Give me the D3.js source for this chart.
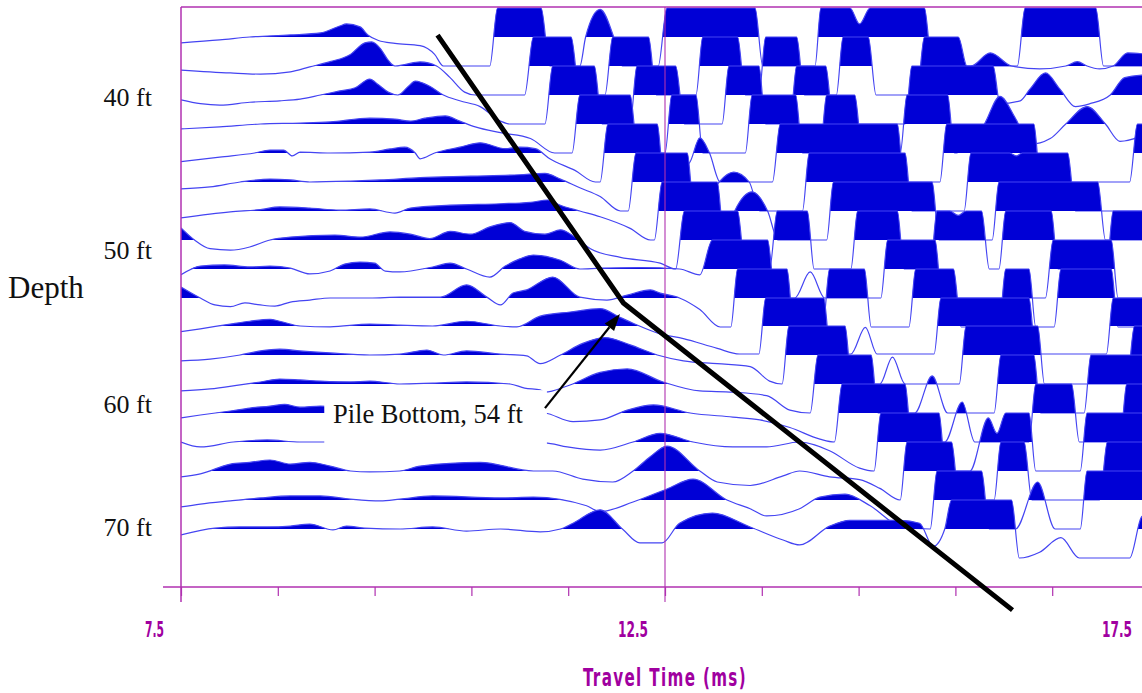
<!DOCTYPE html>
<html>
<head>
<meta charset="utf-8">
<script src="https://cdn.jsdelivr.net/npm/d3@7/dist/d3.min.js"></script>
<style>
  body { margin: 0; background: #fff; }
  svg { display: block; }
</style>
</head>
<body>
<svg id="chart" width="1142" height="693"></svg>
<script>
// receiver depths (ft), one wiggle trace each
const traceDepths = [36, 38, 40, 42, 44, 46, 48, 50, 52, 54, 56, 58, 60, 62, 64, 66, 68, 70];

// [travel time ms, amplitude in trace spacings], clipped at +/-1
const trace36 = [[7.50,-0.2],[7.90,-0.1],[8.21,0],[8.63,0.07],[8.94,0.14],[9.14,0.38],[9.21,0.45],[9.35,0.35],[9.43,0.07],[9.54,-0.12],[9.71,-0.22],[9.97,-0.3],[10.12,-0.6],[10.21,-1],[10.69,-1],[10.77,1],[11.22,1],[11.31,-1],[11.62,-1],[11.68,0],[11.83,0.95],[11.97,0],[12.06,-1],[12.43,-1],[12.52,1],[13.43,1],[13.51,-1],[14.05,-1],[14.11,1],[14.41,1],[14.51,0.45],[14.62,1],[15.18,1],[15.26,-1],[16.14,-1],[16.22,1],[16.95,1],[17.03,-1],[17.5,-1]];
const trace38 = [[7.50,-0.14],[8.01,-0.24],[8.32,-0.28],[8.63,-0.2],[8.83,-0.03],[9.04,0.15],[9.25,0.4],[9.40,0.8],[9.47,0.83],[9.56,0.6],[9.64,0.2],[9.71,0],[9.81,0.05],[9.97,0.14],[10.14,0],[10.28,-0.4],[10.43,-0.9],[10.54,-1],[11.05,-1],[11.14,1],[11.53,1],[11.62,-1],[11.88,-1],[11.96,1],[12.33,1],[12.41,-1],[12.82,-1],[12.89,1],[13.25,1],[13.33,-1],[13.47,-1],[13.54,1],[13.86,1],[13.94,-1],[14.27,-1],[14.34,1],[14.60,1],[14.68,-1],[15.10,-1],[15.18,1],[15.53,1],[15.62,0],[15.66,0],[15.86,0.45],[16.08,0],[16.37,-0.1],[16.64,0],[16.76,0.15],[16.86,0],[16.99,-0.1],[17.13,0],[17.28,0.45],[17.5,0.4]];
const trace40 = [[7.50,-0.17],[7.70,-0.3],[7.90,-0.35],[8.21,-0.25],[8.52,-0.2],[8.73,-0.14],[8.94,0],[9.14,0.14],[9.30,0.25],[9.45,0.55],[9.54,0.35],[9.64,0.1],[9.74,0],[9.85,0.3],[9.92,0.48],[10.07,0.3],[10.21,0],[10.38,-0.2],[10.59,-0.4],[10.80,-0.9],[10.90,-1],[11.26,-1],[11.34,1],[11.77,1],[11.85,-1],[12.14,-1],[12.21,1],[12.61,1],[12.70,-1],[13.09,-1],[13.16,1],[13.47,1],[13.54,-1],[13.79,-1],[13.86,1],[14.16,1],[14.24,-1],[14.98,-1],[15.05,1],[15.89,1],[15.96,-0.3],[16.17,-0.2],[16.27,0.2],[16.43,0.76],[16.58,0.2],[16.74,-0.4],[16.89,-0.3],[17.10,0],[17.25,0.6],[17.5,0.7]];
const trace42 = [[7.50,-0.17],[7.90,-0.1],[8.32,0],[8.73,0.03],[9.04,0.07],[9.45,0.2],[9.71,0.17],[9.87,0.1],[10.02,0.2],[10.23,0.28],[10.38,0.1],[10.54,-0.1],[10.80,-0.3],[11.11,-0.5],[11.36,-1],[11.54,-1],[11.62,1],[12.14,1],[12.22,-1],[12.50,-1],[12.57,1],[12.82,1],[12.89,-1],[13.33,-1],[13.40,1],[13.85,1],[13.92,-1],[14.10,-1],[14.17,1],[14.46,1],[14.54,-1],[14.93,-1],[15.00,1],[15.42,1],[15.49,-1],[15.70,-0.5],[15.80,0],[15.96,0.95],[16.12,0.2],[16.27,-0.7],[16.48,-0.5],[16.64,0],[16.86,0.6],[17.05,0],[17.20,-0.6],[17.5,-0.3]];
const trace44 = [[7.50,-0.3],[7.90,-0.14],[8.26,0],[8.42,0.1],[8.56,0.1],[8.65,-0.1],[8.73,0.03],[9.04,0],[9.45,0.03],[9.66,0.14],[9.81,0.2],[9.92,0],[9.97,-0.2],[10.12,0],[10.38,0.2],[10.59,0.35],[10.85,0.15],[11.00,0.2],[11.16,0.15],[11.31,-0.2],[11.57,-0.6],[11.78,-1],[11.83,-1],[11.91,1],[12.42,1],[12.49,-1],[12.76,-0.3],[12.86,0.52],[12.96,0],[13.07,-1],[13.61,-1],[13.69,1],[14.90,1],[14.97,-1],[15.34,-1],[15.41,1],[16.31,1],[16.38,-1],[17.30,-1],[17.38,1],[17.5,1]];
const trace46 = [[7.50,-0.24],[7.80,-0.17],[8.11,0],[8.42,0.1],[8.63,0.07],[8.83,0],[9.25,0.03],[9.56,0.07],[9.97,0.15],[10.49,0.2],[11.00,0.25],[11.26,0.3],[11.42,0.1],[11.62,-0.2],[11.83,-0.5],[12.04,-1],[12.12,-1],[12.20,1],[12.73,1],[12.80,-1],[12.96,-0.5],[13.06,0],[13.21,0.34],[13.37,0],[13.48,-1],[13.92,-1],[13.99,1],[14.98,1],[15.05,-1],[15.59,-1],[15.66,1],[16.06,1],[16.13,0.9],[16.19,1],[16.66,1],[16.74,-1],[17.5,-1]];
const trace48 = [[7.50,-0.24],[8.01,-0.03],[8.32,0.05],[8.52,0.14],[8.83,0.1],[9.14,0.03],[9.45,0.07],[9.71,-0.07],[9.87,0.1],[10.28,0.2],[10.80,0.25],[11.11,0.3],[11.29,0.38],[11.42,0.2],[11.62,0],[11.83,-0.2],[12.14,-0.6],[12.35,-1],[12.39,-1],[12.47,1],[13.04,1],[13.11,-1],[13.22,0],[13.40,0.66],[13.56,0],[13.67,-1],[14.17,-1],[14.24,1],[15.26,1],[15.33,-1],[15.88,-1],[15.95,1],[16.97,1],[17.05,-1],[17.5,-1]];
const trace50 = [[7.50,0.42],[7.64,0],[7.80,-0.3],[8.01,-0.35],[8.21,-0.24],[8.42,0],[8.63,0.1],[9.09,0.17],[9.35,0.1],[9.66,0.28],[9.87,0.2],[10.07,0.05],[10.28,0.3],[10.49,0.2],[10.69,0.45],[10.90,0.6],[11.05,0.3],[11.26,0.2],[11.42,0.35],[11.57,0.1],[11.73,-0.3],[12.04,-0.6],[12.45,-0.8],[12.61,-1],[12.70,1],[13.25,1],[13.33,-1],[13.58,-1],[13.66,1],[13.97,1],[14.04,-1],[14.42,-1],[14.49,1],[14.90,1],[14.97,-1],[15.24,-1],[15.31,1],[15.44,1],[15.53,0.85],[15.61,1],[15.77,1],[15.85,-1],[15.95,-1],[16.02,1],[16.49,1],[16.56,-1],[17.06,-1],[17.13,1],[17.5,1]];
const trace52 = [[7.50,-0.2],[7.70,0.1],[7.95,0.14],[8.21,0.07],[8.42,0.1],[8.63,0.03],[8.83,-0.17],[9.04,-0.07],[9.19,0.17],[9.35,0.24],[9.50,0.2],[9.61,-0.07],[9.76,-0.1],[10.10,0.07],[10.28,0.2],[10.45,0],[10.69,-0.28],[10.85,0.1],[11.00,0.35],[11.14,0.48],[11.42,0.3],[11.62,0],[11.83,0.03],[12.24,0.05],[12.65,0],[12.86,-0.2],[12.99,1],[13.56,1],[13.64,-1],[13.84,-1],[14.00,-0.1],[14.15,-1],[14.73,-1],[14.80,1],[15.29,1],[15.36,-1],[16.43,-1],[16.51,1],[17.11,1],[17.18,-1],[17.5,-1]];
const trace54 = [[7.50,0.38],[7.70,0],[7.85,-0.24],[8.01,-0.3],[8.16,-0.17],[8.32,-0.24],[8.47,-0.28],[8.63,-0.14],[8.83,-0.07],[9.04,0],[9.45,0],[9.76,0.03],[10.18,0.03],[10.45,0.45],[10.66,0.03],[10.80,-0.24],[10.93,0.17],[11.07,0.28],[11.34,0.72],[11.62,0.03],[11.90,-0.07],[12.11,0.1],[12.35,0.28],[12.45,0.17],[12.65,0],[12.86,-0.4],[13.07,-1],[13.18,-1],[13.25,1],[13.76,1],[13.83,-1],[14.13,-1],[14.20,1],[14.56,1],[14.63,-1],[15.02,-1],[15.09,1],[15.48,1],[15.56,-1],[15.95,-1],[16.02,1],[16.26,1],[16.33,-1],[16.52,-1],[16.59,1],[17.11,1],[17.18,-1],[17.5,-1]];
const trace56 = [[7.50,-0.2],[7.70,-0.1],[8.01,0.07],[8.21,0.17],[8.42,0.24],[8.52,0.17],[8.73,0],[9.04,-0.03],[9.45,0.07],[9.76,0.03],[10.10,0],[10.45,0.17],[10.80,0],[10.97,-0.03],[11.21,0.35],[11.52,0.5],[11.83,0.62],[12.04,0.3],[12.17,0.1],[12.45,-0.28],[12.69,-0.45],[13.04,-0.8],[13.27,-1],[13.47,-1],[13.54,1],[14.14,1],[14.21,-1],[14.42,-1],[14.57,-0.05],[14.69,-1],[15.28,-1],[15.35,1],[16.26,1],[16.33,-1],[17.06,-1],[17.13,1],[17.5,1]];
const trace58 = [[7.50,-0.2],[7.80,-0.14],[8.11,0],[8.32,0.14],[8.52,0.2],[8.73,0.14],[9.04,0.07],[9.45,0],[9.76,0.03],[10.04,0.17],[10.21,0],[10.45,0.14],[10.80,0.03],[11.07,-0.03],[11.21,-0.3],[11.42,0],[11.65,0.4],[11.88,0.6],[12.14,0.35],[12.42,0],[12.69,-0.2],[13.04,-0.3],[13.38,-0.4],[13.58,-0.9],[13.71,-1],[13.78,1],[14.36,1],[14.43,-1],[14.72,-1],[14.85,-0.07],[14.98,-1],[15.54,-1],[15.61,1],[16.35,1],[16.42,-1],[17.27,-1],[17.35,1],[17.5,1]];
const trace60 = [[7.50,-0.24],[7.80,-0.17],[8.11,-0.03],[8.32,0.07],[8.52,0.17],[8.73,0.14],[8.94,0.1],[9.25,0.07],[9.45,0.1],[9.66,0.03],[9.76,0],[10.10,0.03],[10.45,0.07],[10.90,0],[11.05,-0.14],[11.21,-0.2],[11.26,-0.28],[11.49,-0.07],[11.83,0.4],[12.11,0.52],[12.48,0.07],[12.86,-0.24],[13.20,-0.28],[13.55,-0.4],[13.79,-0.9],[14.00,-1],[14.08,1],[14.63,1],[14.70,-1],[15.08,-1],[15.26,0.28],[15.42,-1],[15.90,-1],[15.97,1],[16.31,1],[16.38,-1],[16.83,-1],[16.90,1],[17.5,1]];
const trace62 = [[7.50,-0.17],[7.70,-0.07],[8.01,0.07],[8.21,0.17],[8.42,0.24],[8.57,0.3],[8.73,0.2],[8.94,0.24],[9.14,0.17],[9.35,0.07],[9.56,0],[9.97,0],[10.38,0.03],[10.80,0.1],[11.11,0.03],[11.26,0],[11.55,-0.3],[11.83,-0.24],[12.11,0.1],[12.38,0.28],[12.76,0],[13.20,-0.14],[13.48,-0.24],[13.79,-0.5],[14.10,-0.9],[14.25,-1],[14.33,1],[14.98,1],[15.05,-1],[15.39,-1],[15.57,0.38],[15.70,-1],[16.26,-1],[16.33,1],[16.70,1],[16.78,-1],[17.20,-1],[17.27,1],[17.5,1]];
const trace64 = [[7.50,0],[7.70,-0.17],[8.04,0],[8.39,0.07],[8.73,0],[9.07,0],[9.76,0.03],[10.80,0],[11.26,-0.03],[11.49,-0.17],[11.83,-0.28],[12.17,0],[12.45,0.3],[12.79,0],[13.20,-0.17],[13.55,-0.17],[13.89,0],[14.20,-0.3],[14.51,-0.9],[14.66,-1],[14.73,1],[15.33,1],[15.40,-1],[15.65,-1],[15.84,0.83],[15.93,0.3],[16.02,1],[16.26,1],[16.33,-1],[16.79,-1],[16.86,1],[17.5,1]];
const trace66 = [[7.50,-0.2],[7.70,-0.1],[8.01,0.24],[8.21,0.3],[8.42,0.38],[8.63,0.24],[8.83,0.3],[9.04,0.17],[9.25,0],[9.45,-0.03],[9.76,0],[9.97,0.17],[10.59,0.3],[11.14,0],[11.34,0],[11.65,-0.28],[11.96,-0.38],[12.17,0],[12.35,0.5],[12.52,0.86],[12.86,0],[13.04,-0.38],[13.38,-0.5],[13.72,-0.17],[13.89,0],[14.20,-0.2],[14.51,-0.3],[14.72,-0.6],[14.93,-1],[15.00,1],[15.46,1],[15.54,-1],[15.90,-1],[15.97,1],[16.21,1],[16.29,-1],[16.99,-1],[17.07,1],[17.5,1]];
const trace68 = [[7.50,-0.24],[7.70,-0.14],[8.01,-0.03],[8.32,0.07],[8.63,0.14],[8.94,0.14],[9.25,0.03],[9.56,-0.03],[9.76,0.03],[10.10,0.14],[10.80,0.07],[11.14,0.1],[11.69,-0.2],[11.83,-0.4],[12.17,-0.07],[12.52,0.38],[12.79,0.72],[13.14,0],[13.38,-0.3],[13.55,-0.55],[13.89,-0.3],[14.10,0.1],[14.36,0.2],[14.62,-0.2],[14.93,-0.9],[15.24,-1],[15.31,1],[15.77,1],[15.85,-1],[16.12,-1],[16.35,0.62],[16.53,-1],[16.79,-1],[16.86,1],[17.5,1]];
const trace70 = [[7.50,-0.2],[7.85,0.03],[8.11,0.07],[8.39,0.07],[8.63,0.1],[8.83,0.17],[9.07,-0.03],[9.21,0.1],[9.40,0.03],[9.76,0],[10.10,0.07],[10.45,-0.07],[10.80,0],[11.21,-0.1],[11.42,0],[11.55,0.2],[11.83,0.66],[12.06,0],[12.24,-0.48],[12.47,-0.48],[12.65,0.2],[12.99,0.55],[13.38,0.07],[13.72,-0.38],[13.89,-0.55],[14.20,0.1],[14.41,0.3],[14.93,0.3],[15.13,0.2],[15.27,-0.6],[15.39,0],[15.46,1],[16.08,1],[16.16,-1],[16.37,-0.8],[16.59,-0.3],[16.78,-1],[17.30,-1],[17.42,0.4],[17.5,0.6]];

const traces = [trace36, trace38, trace40, trace42, trace44, trace46, trace48, trace50, trace52,
  trace54, trace56, trace58, trace60, trace62, trace64, trace66, trace68, trace70];

// axis
const timeTicks = [7.5, 8.5, 9.5, 10.5, 11.5, 12.5, 13.5, 14.5, 15.5, 16.5, 17.5];
const timeMajor = [7.5, 12.5, 17.5];
const depthLabels = ['40 ft', '50 ft', '60 ft', '70 ft'];
const depthLabelAt = [40.15, 50.7, 61.35, 69.85];

// annotations (time ms, depth ft)
const pickLine = [[10.15, 35.87], [12.07, 54.38], [16.09, 75.6]];
const arrowFrom = [11.26, 61.64];
const arrowTo = [12.035, 55.14];
const noteText = 'Pile Bottom, 54 ft';
const noteAt = [9.07, 62.68];
const noteBox = [[8.98, 60.4], [11.28, 64.7]];

const W = 1142, H = 693;
const magenta = '#b030b0';
const fillBlue = '#0000d6';
const lineBlue = '#4444f2';
const narrow = '"Liberation Sans Narrow", "DejaVu Sans Condensed", sans-serif';
const serif = '"Liberation Serif", "Times New Roman", serif';

const svg = d3.select('#chart');
const x = d3.scaleLinear().domain([7.5, 17.5]).range([181, 1149]);
const y = d3.scaleLinear().domain([34, 74]).range([8, 587]);

const defs = svg.append('defs');
defs.append('clipPath').attr('id', 'plot-clip')
  .append('rect').attr('x', x(7.5)).attr('y', y(34) - 1).attr('width', W - x(7.5)).attr('height', H);

const g = svg.append('g').attr('clip-path', 'url(#plot-clip)');

traceDepths.forEach((d, i) => {
  // whole-pixel baselines so neighbouring fills meet cleanly
  const base = Math.round(y(d));
  const top = Math.round(y(d - 2));
  const s = base - top;
  const amp = v => base - Math.max(-1, Math.min(1, v)) * s;

  defs.append('clipPath').attr('id', `band-${i}`)
    .append('rect')
    .attr('x', x(7.5)).attr('y', top)
    .attr('width', W).attr('height', s);

  const area = d3.area()
    .x(p => x(p[0])).y0(base).y1(p => amp(p[1]))
    .curve(d3.curveMonotoneX);
  const line = d3.line()
    .x(p => x(p[0])).y(p => amp(p[1]))
    .curve(d3.curveMonotoneX);

  const tg = g.append('g').attr('class', 'trace');
  tg.append('path')
    .attr('d', area(traces[i]))
    .attr('fill', fillBlue)
    .attr('clip-path', `url(#band-${i})`);
  tg.append('path')
    .attr('d', line(traces[i]))
    .attr('fill', 'none')
    .attr('stroke', lineBlue)
    .attr('stroke-width', 1.2);
});

// frame: top border, vertical axis and 12.5 ms gridline
svg.append('line')
  .attr('x1', x(7.5)).attr('x2', W).attr('y1', y(34) - 1).attr('y2', y(34) - 1)
  .attr('stroke', magenta).attr('stroke-width', 1.4);

svg.selectAll('.major-line')
  .data(timeMajor.filter(t => x(t) < W))
  .join('line')
  .attr('class', 'major-line')
  .attr('x1', t => x(t)).attr('x2', t => x(t))
  .attr('y1', y(34) - 1).attr('y2', y(74) + 15)
  .attr('stroke', magenta).attr('stroke-width', t => t === 7.5 ? 1.5 : 1.1);

// x axis
const axisG = svg.append('g').attr('transform', `translate(0,${y(74)})`);
axisG.call(d3.axisBottom(x).tickValues(timeTicks).tickSize(9).tickFormat(''));
axisG.select('.domain').remove();
axisG.selectAll('.tick line').attr('stroke', magenta).attr('stroke-width', 1.2);
axisG.append('line')
  .attr('x1', x(7.5) - 18).attr('x2', W).attr('y1', 0).attr('y2', 0)
  .attr('stroke', magenta).attr('stroke-width', 1.5);

axisG.selectAll('.tick-label')
  .data(timeMajor)
  .join('text')
  .attr('class', 'tick-label')
  .attr('x', t => x(t) - 17)
  .attr('y', 50)
  .attr('text-anchor', 'end')
  .attr('font-family', narrow)
  .attr('font-weight', 'bold')
  .attr('font-size', 21)
  .attr('textLength', t => t < 10 ? 19 : 30)
  .attr('lengthAdjust', 'spacingAndGlyphs')
  .attr('fill', '#a000a0')
  .text(t => t.toFixed(1));

svg.append('text')
  .attr('x', x(12.5)).attr('y', 686)
  .attr('text-anchor', 'middle')
  .attr('font-family', narrow)
  .attr('font-weight', 'bold')
  .attr('font-size', 25)
  .attr('letter-spacing', 2)
  .attr('textLength', 164)
  .attr('lengthAdjust', 'spacingAndGlyphs')
  .attr('fill', '#a000a0')
  .text('Travel Time (ms)');

// depth labels
svg.selectAll('.depth-label')
  .data(depthLabels)
  .join('text')
  .attr('class', 'depth-label')
  .attr('x', 152)
  .attr('y', (t, i) => y(depthLabelAt[i]))
  .attr('dy', '0.34em')
  .attr('text-anchor', 'end')
  .attr('font-family', serif)
  .attr('font-size', 26)
  .attr('fill', '#111')
  .text(t => t);

svg.append('text')
  .attr('x', 8).attr('y', 298)
  .attr('font-family', serif)
  .attr('font-size', 31)
  .attr('fill', '#111')
  .text('Depth');

// annotation: white box, label and arrow
svg.append('rect')
  .attr('x', x(noteBox[0][0])).attr('y', y(noteBox[0][1]))
  .attr('width', x(noteBox[1][0]) - x(noteBox[0][0]))
  .attr('height', y(noteBox[1][1]) - y(noteBox[0][1]))
  .attr('fill', '#fff');

svg.append('text')
  .attr('x', x(noteAt[0])).attr('y', y(noteAt[1]))
  .attr('font-family', serif)
  .attr('font-size', 26.5)
  .attr('fill', '#111')
  .text(noteText);

// first-arrival pick line
svg.append('path')
  .attr('d', d3.line().x(p => x(p[0])).y(p => y(p[1]))(pickLine))
  .attr('fill', 'none')
  .attr('stroke', '#000')
  .attr('stroke-width', 5)
  .attr('stroke-linejoin', 'miter');

const ax0 = x(arrowFrom[0]), ay0 = y(arrowFrom[1]);
const ax1 = x(arrowTo[0]), ay1 = y(arrowTo[1]);
const ang = Math.atan2(ay1 - ay0, ax1 - ax0);
const headLen = 17, headHalf = 6;
const bx = ax1 - headLen * Math.cos(ang), by = ay1 - headLen * Math.sin(ang);
svg.append('line')
  .attr('x1', ax0).attr('y1', ay0).attr('x2', bx).attr('y2', by)
  .attr('stroke', '#000').attr('stroke-width', 2.2);
svg.append('path')
  .attr('d', `M${ax1},${ay1}L${bx - headHalf * Math.sin(ang)},${by + headHalf * Math.cos(ang)}L${bx + headHalf * Math.sin(ang)},${by - headHalf * Math.cos(ang)}Z`)
  .attr('fill', '#000');
</script>
</body>
</html>
